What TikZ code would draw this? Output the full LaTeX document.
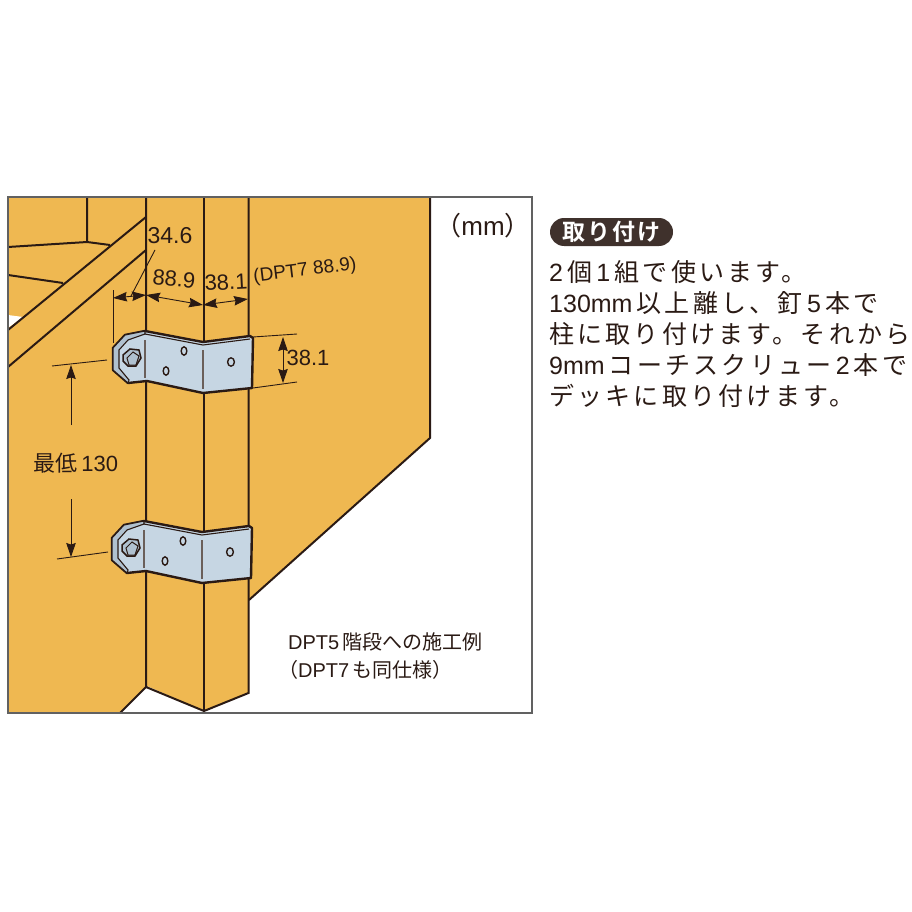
\documentclass[tikz,border=0pt]{standalone}
\usepackage{fontspec}
\setmainfont{Liberation Sans}
\newfontfamily\jpfont{Noto Sans CJK JP}
\newfontfamily\jpwide[LetterSpace=13]{Noto Sans CJK JP}
\newfontfamily\jpbold[LetterSpace=9]{Noto Sans CJK JP Bold}
\usetikzlibrary{arrows.meta,positioning}
\definecolor{timber}{HTML}{EFB851}
\definecolor{steel}{HTML}{C6D6E3}
\definecolor{steeldark}{HTML}{B0C1CF}
\definecolor{inkline}{HTML}{2A1A14}
\tikzset{
  % wood outlines
  woodline/.style={draw=inkline,line width=2pt},
  dimline/.style={draw=inkline,line width=0.9pt},
  dimtip/.tip={Stealth[length=14pt,width=9.5pt,inset=1.5pt]},
  dimarrow/.style={dimline,dimtip-dimtip},
  dimtext/.style={font=\fontsize{22}{24}\selectfont,text=inkline,inner sep=0pt},
  bodytext/.style={font=\fontsize{25}{31}\selectfont,text=inkline,inner sep=0pt,anchor=north west,align=left},
  % steel bracket with its bolt, drawn round its own corner
  bracket/.pic={
    \draw[woodline,line width=2.4pt,fill=steel,line join=round] (113,348) -- (125,335) -- (145,331) -- (203,342)
      -- (250,336) -- (253,338) -- (252,388) -- (203,393) -- (147,381) -- (128,383) -- (113,370) -- cycle;
    \draw[draw=inkline,line width=1.1pt,fill=steeldark] (113,348) -- (125,335) -- (145,331) -- (145,334)
      -- (128,340) -- (119,350) -- (119,368) -- (129,380) -- (128,383) -- (113,370) -- cycle;
    \draw[draw=inkline,line width=1.1pt] (145,334) -- (203,345) -- (250,339);
    \draw[draw=inkline!70,line width=1.2pt] (145,340) -- (145,378) (203,350) -- (203,389);
    \draw[draw=inkline,line width=1.5pt,fill=steeldark] (123,355) -- (130,349) -- (139,350) -- (141,358)
      -- (136,366) -- (128,366) -- (123,361) -- cycle;
    \draw[draw=inkline,line width=1pt] (127,358) -- (133,352) -- (139,356) -- (136,365) -- (129,365) -- cycle;
    \foreach \hx/\hy/\hr in {184/351/2.8,166/371/2.8,231/362/3.4}
      \draw[draw=inkline,line width=1.4pt,fill=steel] (\hx,\hy) ellipse [x radius=\hr pt,y radius=4.2pt];
  },
}
\begin{document}
\begin{tikzpicture}[x=1pt,y=-1pt]
  \useasboundingbox (0,0) rectangle (912,912);
  % timber
  \fill[timber] (8,197) -- (430,197) -- (430,438) -- (249,600) -- (249,693) -- (204,711)
    -- (147,686) -- (120,713) -- (8,713) -- cycle;
  \fill[white] (8,315) -- (23,317) -- (8,328) -- cycle;
  \draw[woodline] (146,197) -- (146,687) -- (204,711) -- (248.5,693) -- (248.5,197);
  \draw[woodline] (204,197) -- (204,711);
  \draw[woodline] (430,197) -- (430,438) -- (249,600);
  \draw[woodline] (147,686) -- (120,713);
  \draw[woodline] (87,197) -- (87,242) (8,247) -- (87,242) -- (110,245);
  \draw[woodline] (8,275) -- (63,283);
  \draw[woodline] (8,330) -- (146,217);
  \draw[woodline] (8,367) -- (146,250);
  \draw[draw=black!62,line width=2pt] (8,197) rectangle (532,713);
  % brackets
  \pic at (0,0) {bracket};
  \pic at (-1,190) {bracket};
  % dimension points
  \coordinate (railtop) at (113,290);
  \coordinate (railbot) at (113,343);
  \coordinate (dimA) at (113,298);
  \coordinate (dimB) at (146,295);
  \coordinate (dimC) at (203,305);
  \coordinate (dimD) at (248,299);
  \coordinate (sideA) at (253,337);
  \coordinate (sideB) at (297,334);
  \coordinate (sideC) at (253,388);
  \coordinate (sideD) at (297,382);
  \coordinate (sideE) at (283,337);
  \coordinate (sideF) at (283,383);
  \coordinate (lowA) at (52,366);
  \coordinate (lowB) at (107,360);
  \coordinate (lowC) at (57,559);
  \coordinate (lowD) at (108,552);
  \coordinate (gapA) at (71,425);
  \coordinate (gapB) at (71,365);
  \coordinate (gapC) at (71,499);
  \coordinate (gapD) at (71,557);
  \coordinate (leadA) at (155,250);
  \coordinate (leadB) at (131,296);
  % labels
  \node[dimtext,font=\fontsize{23}{24}\selectfont] (railw) at (170,236) {34.6};
  \node[dimtext,rotate=-5] (postw) at (174,279) {88.9};
  \node[dimtext,rotate=3] (sidew) at (226,282) {38.1};
  \node[dimtext,font=\fontsize{19}{20}\selectfont,rotate=7] (dptnote) at (305,271) {(DPT7 88.9)};
  \node[dimtext] (platew) at (308,358) {38.1};
  \node[dimtext] (gap) at (76,463) {{\jpfont 最低}\,130};
  \node[dimtext,font=\fontsize{26}{28}\selectfont] (unit) at (483,226) {{\jpfont （}mm{\jpfont ）}};
  \node[dimtext,font=\fontsize{20}{28}\selectfont,align=left,anchor=north west] (caption) at (288,632)
    {DPT5\,{\jpfont 階段への施工例}\\[0pt]\hspace*{-10pt}{\jpfont （}DPT7\,{\jpfont も同仕様）}};
  % dimensions
  \draw[dimline] (railtop) -- (railbot);
  \draw[dimline] (sideA) -- (sideB);
  \draw[dimline] (sideC) -- (sideD);
  \draw[dimline] (lowA) -- (lowB);
  \draw[dimline] (lowC) -- (lowD);
  \draw[dimarrow] (dimA) -- (dimB);
  \draw[dimarrow] (dimB) -- (dimC);
  \draw[dimarrow] (dimC) -- (dimD);
  \draw[dimarrow] (sideE) -- (sideF);
  \draw[dimline,-dimtip] (gapA) -- (gapB);
  \draw[dimline,-dimtip] (gapC) -- (gapD);
  \draw[dimline] (leadA) -- (leadB);
  % right column
  \node[fill=inkline!90,rounded corners=14pt,minimum width=123pt,minimum height=28pt,inner sep=0pt,
    text=white,font=\fontsize{23}{24}\selectfont\jpbold] (heading) at (611.5,232) {取り付け};
  \node[bodytext] (body) at (549,260) {%
    2\,{\jpwide 個}\,1\,{\jpwide 組で使います。}\\
    130mm\,{\jpwide 以上離し、釘}\,5\,{\jpwide 本で}\\
    {\jpwide 柱に取り付けます。それから}\\
    9mm\,{\jpwide コーチスクリュー}\,2\,{\jpwide 本で}\\
    {\jpwide デッキに取り付けます。}};
\end{tikzpicture}
\end{document}
